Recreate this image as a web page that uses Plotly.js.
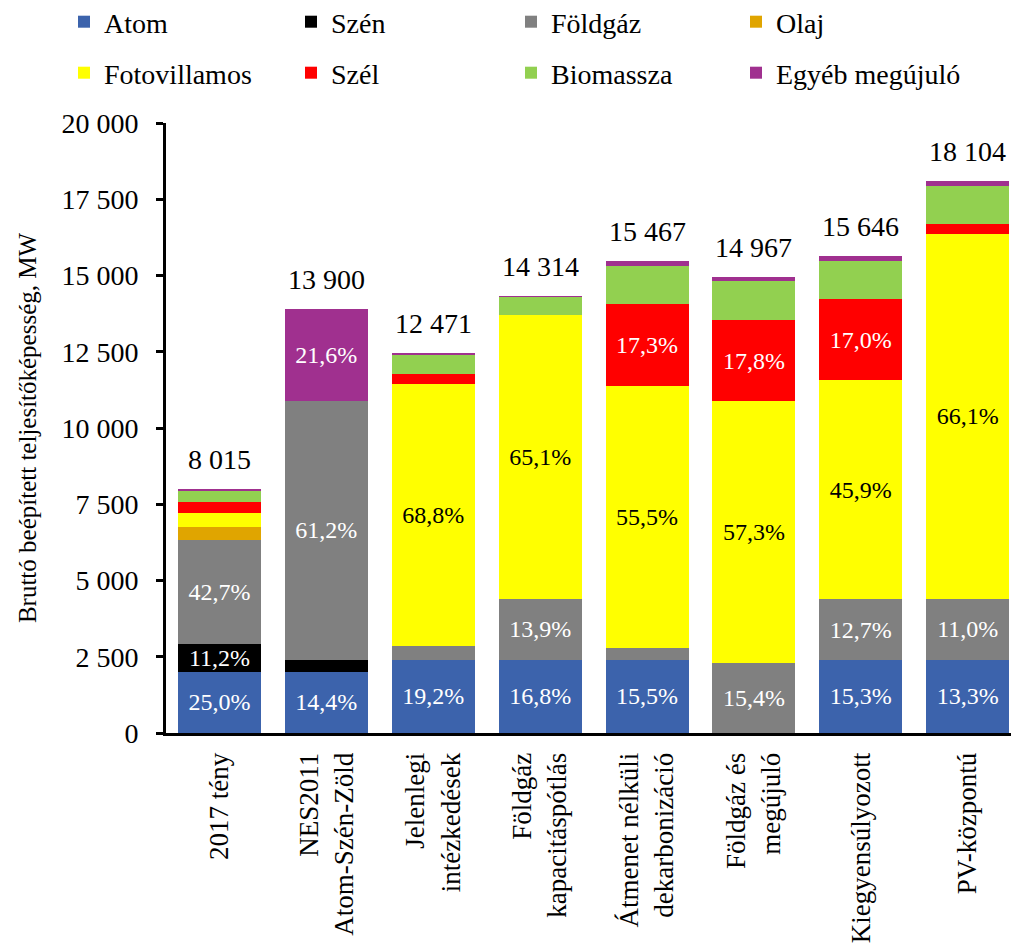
<!DOCTYPE html>
<html>
<head>
<meta charset="utf-8">
<script src="https://cdn.plot.ly/plotly-3.0.1.min.js"></script>
<style>html,body{margin:0;padding:0;background:#fff;}#chart{width:1011px;height:945px;}</style>
</head>
<body>
<div id="chart"></div>
<script>
const categories = ['2017 tény', 'NES2011<br>Atom-Szén-Zöld', 'Jelenlegi<br>intézkedések', 'Földgáz<br>kapacitáspótlás', 'Átmenet nélküli<br>dekarbonizáció', 'Földgáz és<br>megújuló', 'Kiegyensúlyozott', 'PV-központú'];
const seriesNames = ['Atom', 'Szén', 'Földgáz', 'Olaj', 'Fotovillamos', 'Szél', 'Biomassza', 'Egyéb megújuló'];
const atom    = [2004, 2002, 2394, 2405, 2397, 0,    2394, 2408];
const szen    = [898,  389,  0,    0,    0,    0,    0,    0];
const foldgaz = [3422, 8507, 470,  1990, 400,  2305, 1987, 1991];
const olaj    = [420,  0,    0,    0,    0,    0,    0,    0];
const pv      = [480,  0,    8580, 9318, 8584, 8576, 7182, 11967];
const szel    = [340,  0,    340,  0,    2676, 2664, 2660, 330];
const bio     = [380,  0,    620,  570,  1270, 1260, 1260, 1245];
const egyeb   = [71,   3002, 67,   31,   140,  162,  163,  163];
const yTicks  = [0, 2500, 5000, 7500, 10000, 12500, 15000, 17500, 20000];

const series = [atom, szen, foldgaz, olaj, pv, szel, bio, egyeb];
const colors = ['#3C63AC', '#000000', '#808080', '#E0A500', '#FFFF00', '#FF0000', '#92D050', '#A0308F'];
const textColors = ['#ffffff', '#ffffff', '#ffffff', '#000000', '#000000', '#ffffff', '#000000', '#ffffff'];
const FONT = 'Liberation Serif';

const totals = categories.map((c, i) => series.reduce((s, arr) => s + arr[i], 0));
const fmtThousands = v => String(v).replace(/\B(?=(\d{3})+(?!\d))/g, ' ');

const legendIds = seriesNames.map((n, k) => k === 0 ? 'legend' : 'legend' + (k + 1));

const traces = series.map((vals, k) => ({
  type: 'bar',
  name: seriesNames[k],
  x: categories,
  y: vals,
  marker: {color: colors[k], line: {width: 0}},
  text: vals.map((v, i) => (v / totals[i] >= 0.1) ? (v / totals[i] * 100).toFixed(1).replace('.', ',') + '%' : ''),
  textposition: 'inside',
  insidetextanchor: 'middle',
  textangle: 0,
  constraintext: 'none',
  textfont: {family: FONT, size: 24, color: textColors[k]},
  hoverinfo: 'skip',
  legend: legendIds[k]
}));

const annotations = categories.map((c, i) => ({
  x: c, y: totals[i], xref: 'x', yref: 'y',
  text: fmtThousands(totals[i]),
  showarrow: false, yanchor: 'bottom', yshift: 12,
  font: {family: FONT, size: 28, color: '#000'}
}));

const layout = {
  width: 1011, height: 945,
  margin: {l: 166, r: 0, t: 123, b: 212},
  paper_bgcolor: '#fff', plot_bgcolor: '#fff',
  barmode: 'stack', bargap: 0.224,
  font: {family: FONT, size: 28, color: '#000'},
  showlegend: true,
  xaxis: {
    type: 'category', range: [-0.5, 7.405], automargin: false,
    showline: true, linewidth: 3, linecolor: '#000',
    ticks: '', tickangle: -90, ticklabelstandoff: 6,
    tickfont: {family: FONT, size: 27, color: '#000'},
    showgrid: false, zeroline: false, fixedrange: true
  },
  yaxis: {
    range: [0, 20000], automargin: false,
    tickvals: yTicks, ticktext: yTicks.map(fmtThousands),
    showline: true, linewidth: 3, linecolor: '#000',
    ticks: 'outside', ticklen: 7, tickwidth: 3, tickcolor: '#000',
    ticklabelstandoff: 12,
    tickfont: {family: FONT, size: 28, color: '#000'},
    showgrid: false, zeroline: false, fixedrange: true,
    title: {text: 'Bruttó beépített teljesítőképesség, MW', font: {family: FONT, size: 25, color: '#000'}, standoff: 18}
  },
  annotations: annotations
};

const legendX = [64, 291, 511, 736];
const legendY = [22, 73];
legendIds.forEach((id, k) => {
  layout[id] = {
    orientation: 'h', xref: 'container', yref: 'container',
    x: legendX[k % 4] / 1011, y: 1 - legendY[Math.floor(k / 4)] / 945,
    xanchor: 'left', yanchor: 'middle',
    font: {family: FONT, size: 28, color: '#000'},
    itemwidth: 30, bgcolor: 'rgba(0,0,0,0)', borderwidth: 0
  };
});

Plotly.newPlot('chart', traces, layout, {staticPlot: true, displayModeBar: false});
</script>
</body>
</html>
